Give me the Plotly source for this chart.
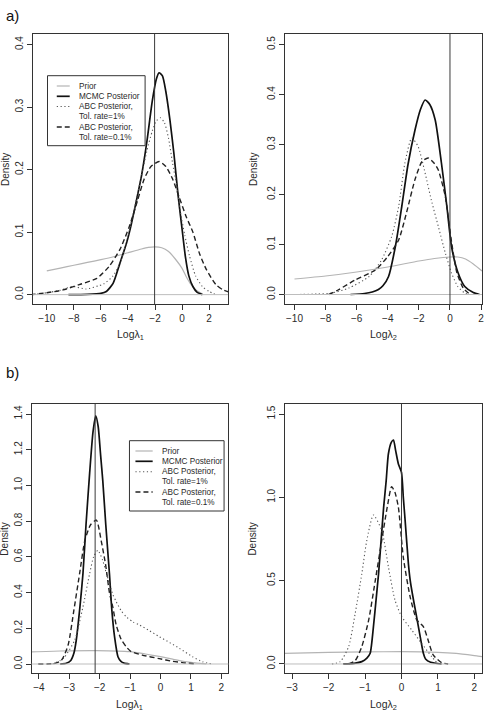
import plotly.graph_objects as go

W, H = 488, 720

# ---------------- data ----------------
# Panel a) left : Log lambda_1
a1_prior_x = [-10, -9, -8, -7, -6, -5, -4, -3, -2.5, -2, -1.5, -1, -0.5, 0, 0.3, 0.6, 1.0, 1.5]
a1_prior_y = [0.038, 0.0425, 0.047, 0.0515, 0.056, 0.061, 0.067, 0.073, 0.0755, 0.0765, 0.075, 0.069, 0.057, 0.042, 0.029, 0.018, 0.008, 0.001]
a1_mcmc_x = [-8.4, -7.0, -6.0, -5.6, -5.1, -4.6, -4.1, -3.75, -3.4, -3.0, -2.6, -2.2, -1.9, -1.7, -1.45, -1.2, -0.9, -0.6, -0.3, 0.0, 0.25, 0.5, 0.8, 1.1, 1.5]
a1_mcmc_y = [0.0, 0.0005, 0.002, 0.005, 0.018, 0.05, 0.083, 0.113, 0.148, 0.19, 0.245, 0.31, 0.345, 0.355, 0.35, 0.325, 0.28, 0.225, 0.16, 0.105, 0.06, 0.03, 0.013, 0.004, 0.0]
a1_abc1_x = [-11, -10, -9, -8.1, -7.1, -6.2, -5.8, -5.1, -4.6, -4.1, -3.6, -3.1, -2.6, -2.2, -1.9, -1.6, -1.3, -1.0, -0.7, -0.4, -0.1, 0.2, 0.55, 1.0, 1.5, 2.0, 2.5]
a1_abc1_y = [0.0, 0.003, 0.007, 0.013, 0.009, 0.014, 0.017, 0.03, 0.05, 0.085, 0.13, 0.18, 0.23, 0.262, 0.278, 0.283, 0.275, 0.25, 0.21, 0.175, 0.13, 0.095, 0.062, 0.03, 0.013, 0.005, 0.0]
a1_abc01_x = [-11.2, -10, -8.8, -7.6, -6.3, -5.4, -4.6, -3.9, -3.3, -2.8, -2.3, -1.7, -1.2, -0.7, -0.2, 0.3, 0.8, 1.3, 1.8, 2.5, 3.0, 3.5]
a1_abc01_y = [0.0, 0.003, 0.0075, 0.016, 0.026, 0.045, 0.072, 0.109, 0.15, 0.185, 0.205, 0.213, 0.205, 0.185, 0.155, 0.125, 0.1, 0.065, 0.04, 0.016, 0.008, 0.004]

# Panel a) right : Log lambda_2
a2_prior_x = [-10, -8, -6, -4, -2, -1, 0, 0.5, 1.0, 1.5, 2.06]
a2_prior_y = [0.031, 0.037, 0.045, 0.055, 0.067, 0.072, 0.075, 0.075, 0.071, 0.061, 0.047]
a2_mcmc_x = [-6.4, -5.5, -5.0, -4.6, -4.3, -3.95, -3.5, -3.1, -2.7, -2.25, -1.9, -1.6, -1.3, -0.95, -0.55, -0.2, 0.1, 0.5, 0.95, 1.5, 1.9]
a2_mcmc_y = [0.0, 0.002, 0.005, 0.01, 0.018, 0.036, 0.098, 0.176, 0.26, 0.329, 0.37, 0.389, 0.38, 0.349, 0.263, 0.176, 0.096, 0.045, 0.016, 0.004, 0.0]
a2_abc1_x = [-9.9, -8.5, -7.6, -6.5, -5.2, -4.4, -3.75, -3.3, -2.9, -2.46, -2.05, -1.6, -1.2, -0.75, -0.3, 0.1, 0.5, 0.95, 1.2]
a2_abc1_y = [0.0, 0.001, 0.003, 0.013, 0.036, 0.069, 0.116, 0.176, 0.263, 0.313, 0.296, 0.243, 0.189, 0.136, 0.083, 0.043, 0.016, 0.003, 0.0]
a2_abc01_x = [-7.8, -7.2, -6.1, -4.8, -4.0, -3.3, -2.8, -2.25, -1.8, -1.4, -1.0, -0.75, -0.3, 0.1, 0.45, 0.85, 1.3]
a2_abc01_y = [0.0, 0.009, 0.029, 0.049, 0.076, 0.109, 0.163, 0.23, 0.266, 0.273, 0.262, 0.249, 0.196, 0.105, 0.043, 0.013, 0.0]

# Panel b) left : Log lambda_1
b1_prior_x = [-4.24, -3.3, -2.1, -1.0, -0.5, 0.0, 0.4, 0.8, 1.2, 1.5]
b1_prior_y = [0.068, 0.073, 0.075, 0.069, 0.056, 0.041, 0.027, 0.014, 0.005, 0.001]
b1_mcmc_x = [-3.3, -3.1, -2.95, -2.85, -2.77, -2.65, -2.55, -2.45, -2.33, -2.22, -2.13, -2.05, -1.97, -1.9, -1.8, -1.68, -1.6, -1.51, -1.4, -1.3, -1.2, -1.02]
b1_mcmc_y = [0.0, 0.004, 0.02, 0.06, 0.134, 0.32, 0.507, 0.78, 1.07, 1.3, 1.39, 1.33, 1.17, 1.03, 0.78, 0.507, 0.3, 0.15, 0.041, 0.015, 0.005, 0.0]
b1_abc1_x = [-3.55, -3.3, -3.15, -2.82, -2.55, -2.33, -2.2, -2.06, -1.9, -1.78, -1.57, -1.46, -1.3, -1.13, -0.9, -0.69, -0.4, -0.04, 0.3, 0.62, 1.05, 1.38, 1.7]
b1_abc1_y = [0.0, 0.02, 0.04, 0.134, 0.32, 0.507, 0.6, 0.637, 0.58, 0.507, 0.39, 0.35, 0.3, 0.265, 0.235, 0.218, 0.19, 0.153, 0.12, 0.088, 0.041, 0.013, 0.0]
b1_abc01_x = [-4.02, -3.5, -3.26, -3.04, -2.85, -2.66, -2.49, -2.3, -2.11, -1.95, -1.8, -1.68, -1.57, -1.46, -1.3, -1.13, -0.97, -0.6, -0.04, 0.4, 0.72, 1.16]
b1_abc01_y = [0.0, 0.003, 0.02, 0.105, 0.3, 0.507, 0.69, 0.78, 0.806, 0.69, 0.55, 0.4, 0.32, 0.22, 0.14, 0.097, 0.07, 0.05, 0.03, 0.015, 0.008, 0.0]

# Panel b) right : Log lambda_2
b2_prior_x = [-3.21, -2, -1, 0, 1, 1.5, 2.1, 2.21]
b2_prior_y = [0.063, 0.069, 0.072, 0.074, 0.07, 0.063, 0.047, 0.044]
b2_mcmc_x = [-1.6, -1.3, -1.09, -0.95, -0.86, -0.77, -0.7, -0.63, -0.56, -0.49, -0.42, -0.36, -0.28, -0.22, -0.16, -0.085, 0.0, 0.05, 0.1, 0.19, 0.24, 0.3, 0.4, 0.5, 0.6, 0.66, 0.8, 1.1]
b2_mcmc_y = [0.0, 0.004, 0.014, 0.035, 0.064, 0.224, 0.38, 0.54, 0.74, 0.94, 1.1, 1.26, 1.33, 1.344, 1.28, 1.2, 1.15, 1.0, 0.86, 0.6, 0.5, 0.42, 0.3, 0.18, 0.064, 0.03, 0.01, 0.0]
b2_abc1_x = [-1.91, -1.68, -1.45, -1.27, -1.09, -0.95, -0.77, -0.54, -0.36, -0.18, 0.005, 0.28, 0.55, 0.83, 1.0]
b2_abc1_y = [0.0, 0.014, 0.104, 0.304, 0.54, 0.744, 0.894, 0.8, 0.584, 0.384, 0.284, 0.204, 0.124, 0.044, 0.0]
b2_abc01_x = [-1.45, -1.27, -1.09, -0.9, -0.72, -0.54, -0.4, -0.27, -0.18, -0.085, 0.05, 0.24, 0.42, 0.6, 0.73, 0.87, 1.1, 1.28]
b2_abc01_y = [0.0, 0.02, 0.104, 0.264, 0.5, 0.744, 0.93, 1.064, 1.03, 0.94, 0.64, 0.4, 0.264, 0.224, 0.144, 0.054, 0.008, 0.0]

# true parameter values (vertical reference lines)
true_values = [-2.03, 0.0, -2.15, 0.0]

legend_labels = ["Prior", "MCMC Posterior", "ABC Posterior,", "Tol. rate=1%", "ABC Posterior,", "Tol. rate=0.1%"]
x_titles = ["Logλ<sub>1</sub>", "Logλ<sub>2</sub>", "Logλ<sub>1</sub>", "Logλ<sub>2</sub>"]

# ---------------- styling / layout ----------------
FONT = "Liberation Sans, Arial, Helvetica, sans-serif"
TXT = "#2a2a2a"
FRAME = "#333333"
styles = {
    "prior": dict(color="#b4b4b4", width=1.2, dash="solid"),
    "mcmc": dict(color="#111111", width=1.7, dash="solid"),
    "abc1": dict(color="#555555", width=1.1, dash="1.2px,2.6px"),
    "abc01": dict(color="#222222", width=1.4, dash="5px,3px"),
}

def px2x(px):
    return px / W

def py2y(py):
    return 1 - py / H

panels = [
    dict(data=[(a1_prior_x, a1_prior_y, "prior"), (a1_mcmc_x, a1_mcmc_y, "mcmc"),
               (a1_abc1_x, a1_abc1_y, "abc1"), (a1_abc01_x, a1_abc01_y, "abc01")],
         box=(33, 229, 34, 304), xr=[-11.03, 3.4], yr=[-0.015, 0.417], xd=2, yd=0.1,
         ytitle_x=5),
    dict(data=[(a2_prior_x, a2_prior_y, "prior"), (a2_mcmc_x, a2_mcmc_y, "mcmc"),
               (a2_abc1_x, a2_abc1_y, "abc1"), (a2_abc01_x, a2_abc01_y, "abc01")],
         box=(285.7, 484, 34, 304), xr=[-10.64, 2.06], yr=[-0.019, 0.521], xd=2, yd=0.1,
         ytitle_x=254),
    dict(data=[(b1_prior_x, b1_prior_y, "prior"), (b1_mcmc_x, b1_mcmc_y, "mcmc"),
               (b1_abc1_x, b1_abc1_y, "abc1"), (b1_abc01_x, b1_abc01_y, "abc01")],
         box=(31.7, 229.3, 404, 673.3), xr=[-4.24, 2.23], yr=[-0.052, 1.456], xd=1, yd=0.2,
         ytitle_x=5),
    dict(data=[(b2_prior_x, b2_prior_y, "prior"), (b2_mcmc_x, b2_mcmc_y, "mcmc"),
               (b2_abc1_x, b2_abc1_y, "abc1"), (b2_abc01_x, b2_abc01_y, "abc01")],
         box=(285.7, 484, 404, 673.3), xr=[-3.21, 2.21], yr=[-0.056, 1.56], xd=1, yd=0.5,
         ytitle_x=254),
]

fig = go.Figure()
shapes = []
annotations = []
layout = dict(width=W, height=H, margin=dict(l=0, r=0, t=0, b=0),
              paper_bgcolor="white", plot_bgcolor="white", showlegend=False,
              font=dict(family=FONT, size=10, color=TXT))

for i, p in enumerate(panels):
    n = "" if i == 0 else str(i + 1)
    xa, ya = "x" + n, "y" + n
    x0, x1, y0, y1 = p["box"]
    for xs, ys, key in p["data"]:
        st = styles[key]
        fig.add_trace(go.Scatter(x=xs, y=ys, mode="lines", xaxis=xa, yaxis=ya,
                                 line=dict(color=st["color"], width=st["width"], dash=st["dash"],
                                           shape="spline", smoothing=0.6),
                                 hoverinfo="skip"))
    common = dict(showgrid=False, zeroline=False, showline=True, mirror=True,
                  linecolor=FRAME, linewidth=1, ticks="outside", ticklen=5,
                  tickwidth=1, tickcolor=FRAME, tickfont=dict(size=10, color=TXT, family=FONT))
    layout["xaxis" + n] = dict(common, domain=[px2x(x0), px2x(x1)], range=p["xr"],
                               anchor=ya, dtick=p["xd"], tick0=0)
    layout["yaxis" + n] = dict(common, domain=[py2y(y1), py2y(y0)], range=p["yr"],
                               anchor=xa, dtick=p["yd"], tick0=0, tickformat=".1f",
                               tickangle=-90)
    # zero line (gray) and true-value line
    shapes.append(dict(type="line", xref=xa + " domain", x0=0, x1=1, yref=ya, y0=0, y1=0,
                       line=dict(color="#bdbdbd", width=1), layer="above"))
    shapes.append(dict(type="line", xref=xa, x0=true_values[i], x1=true_values[i],
                       yref=ya + " domain", y0=0, y1=1,
                       line=dict(color="#3a3a3a", width=1), layer="above"))
    # axis titles
    top_row = i < 2
    annotations.append(dict(text=x_titles[i], xref="paper", yref="paper",
                            x=px2x((x0 + x1) / 2), y=py2y(335 if top_row else 705),
                            xanchor="center", yanchor="middle", showarrow=False,
                            font=dict(size=10.5, color=TXT, family=FONT)))
    annotations.append(dict(text="Density", xref="paper", yref="paper",
                            x=px2x(p["ytitle_x"]), y=py2y((y0 + y1) / 2),
                            xanchor="center", yanchor="middle", showarrow=False, textangle=-90,
                            font=dict(size=10, color=TXT, family=FONT)))

# panel letters
annotations.append(dict(text="a)", xref="paper", yref="paper", x=px2x(4), y=py2y(15),
                        xanchor="left", yanchor="middle", showarrow=False,
                        font=dict(size=15, color="#111", family=FONT)))
annotations.append(dict(text="b)", xref="paper", yref="paper", x=px2x(4), y=py2y(372),
                        xanchor="left", yanchor="middle", showarrow=False,
                        font=dict(size=15, color="#111", family=FONT)))

# legends (drawn in paper coordinates)
legend_specs = [
    dict(box=(47.7, 145.7, 75.7, 145.7), rows=[86, 96.3, 106.5, 117, 127, 137.3],
         sx=(57, 70), tx=77.7),
    dict(box=(130, 225, 440.7, 511), rows=[451, 461.3, 471.7, 482, 492, 502.3],
         sx=(136, 153.3), tx=161),
]
sample_keys = ["prior", "mcmc", "abc1", None, "abc01", None]
for L in legend_specs:
    bx0, bx1, by0, by1 = L["box"]
    shapes.append(dict(type="rect", xref="paper", yref="paper",
                       x0=px2x(bx0), x1=px2x(bx1), y0=py2y(by1), y1=py2y(by0),
                       line=dict(color=FRAME, width=1), fillcolor="white", layer="above"))
    for row_y, lab, key in zip(L["rows"], legend_labels, sample_keys):
        if key is not None:
            st = styles[key]
            shapes.append(dict(type="line", xref="paper", yref="paper",
                               x0=px2x(L["sx"][0]), x1=px2x(L["sx"][1]),
                               y0=py2y(row_y), y1=py2y(row_y),
                               line=dict(color=st["color"], width=st["width"], dash=st["dash"]),
                               layer="above"))
        annotations.append(dict(text=lab, xref="paper", yref="paper",
                                x=px2x(L["tx"]), y=py2y(row_y), xanchor="left", yanchor="middle",
                                showarrow=False, font=dict(size=8.2, color=TXT, family=FONT)))

layout["shapes"] = shapes
layout["annotations"] = annotations
fig.update_layout(**layout)
fig.write_html("out.html")
